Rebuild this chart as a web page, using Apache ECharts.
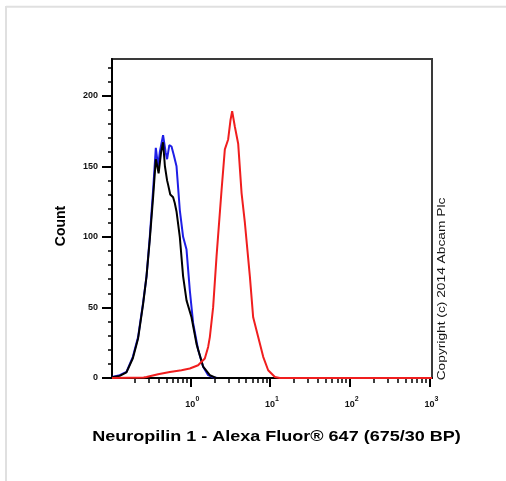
<!DOCTYPE html>
<html>
<head>
<meta charset="utf-8">
<script src="https://cdn.jsdelivr.net/npm/echarts@6/dist/echarts.min.js"></script>
<style>
html,body{margin:0;padding:0;background:#fff;}
#chart{width:506px;height:481px;}
</style>
</head>
<body>
<div id="chart"></div>
<script>
// ---- data (x = fluorescence intensity, y = count) ----
const blueData = [
  [0.104,0.7],[0.13,2],[0.158,4.3],[0.19,15],[0.221,29],[0.255,53],[0.282,72],[0.31,100],
  [0.341,133],[0.369,163],[0.394,150],[0.414,160],[0.455,172],[0.49,160],[0.511,155],
  [0.545,165],[0.581,164],[0.62,158],[0.671,150],[0.738,119],[0.812,100],[0.896,91],
  [0.986,62],[1.084,39],[1.253,20],[1.449,8],[1.674,2],[1.933,0.5],[2.2,0],[1080,0]
];
const blackData = [
  [0.104,0.5],[0.13,1.5],[0.158,4],[0.19,14],[0.221,28],[0.255,52],[0.282,72],[0.31,98],
  [0.341,128],[0.369,155],[0.385,150],[0.40,145],[0.43,160],[0.455,167],[0.48,150],
  [0.511,140],[0.526,137],[0.56,130],[0.608,128],[0.638,124],[0.671,118],[0.738,100],
  [0.812,72],[0.896,55],[1.035,43],[1.197,24],[1.449,8],[1.758,2],[2.1,0],[1080,0]
];
const redData = [
  [0.104,0],[0.26,0.3],[0.282,0.7],[0.394,2.6],[0.553,4.3],[0.775,5.5],[0.986,6.7],
  [1.253,9],[1.521,13.8],[1.674,22],[1.758,29],[1.933,50],[2.133,86],[2.466,133],
  [2.712,162],[2.985,169],[3.199,183],[3.351,189],[3.624,178],[3.988,166],[4.399,131],
  [4.839,110],[5.59,72],[6.15,43],[7.111,29],[8.221,15],[9.49,5.5],[11.53,0.7],[13.3,0],[1080,0]
];
const xMajorTicks = [1, 10, 100, 1000];
const xMinorTicks = [0.2,0.3,0.4,0.5,0.6,0.7,0.8,0.9, 2,3,4,5,6,7,8,9, 20,30,40,50,60,70,80,90, 200,300,400,500,600,700,800,900];
const yMajorTicks = [0, 50, 100, 150, 200];
const yMinorTicks = [10,20,30,40,60,70,80,90,110,120,130,140,160,170,180,190,210,220];
const xMin = 0.104, xMax = 1080, yMin = 0, yMax = 226;

const chart = echarts.init(document.getElementById('chart'), null, {renderer:'canvas'});
const FONT = 'Liberation Sans, Arial, sans-serif';

const option = {
  animation: false,
  backgroundColor: '#fff',
  grid: {
    left: 112, top: 59, right: 74, bottom: 103,
    show: true, borderColor: '#3a3a3a', borderWidth: 2, backgroundColor: 'transparent'
  },
  xAxis: [
    {
      type: 'log', logBase: 10, min: xMin, max: xMax, position: 'bottom',
      axisLine: {show: true, onZero: false, lineStyle: {color: '#000', width: 2}},
      axisTick: {show: true, length: 5, lineStyle: {color: '#000', width: 1.5}, customValues: xMinorTicks},
      axisLabel: {show: false},
      splitLine: {show: false}, minorTick: {show: false}
    },
    {
      type: 'log', logBase: 10, min: xMin, max: xMax, position: 'bottom',
      axisLine: {show: false, onZero: false},
      axisTick: {show: true, length: 9, lineStyle: {color: '#000', width: 2}, customValues: xMajorTicks},
      axisLabel: {
        show: true, customValues: xMajorTicks, margin: 16,
        formatter: function (v) {
          const e = Math.round(Math.log10(v));
          return '{b|10}{s|' + e + '}';
        },
        rich: {
          b: {fontFamily: FONT, fontWeight: 'bold', fontSize: 9, color: '#111', padding: [6, 0, 0, 4]},
          s: {fontFamily: FONT, fontWeight: 'bold', fontSize: 7, color: '#111', padding: [0, 0, 4, 0]}
        }
      },
      splitLine: {show: false}
    }
  ],
  yAxis: [
    {
      type: 'value', min: yMin, max: yMax, position: 'left',
      axisLine: {show: true, onZero: false, lineStyle: {color: '#000', width: 2}},
      axisTick: {show: true, length: 10, lineStyle: {color: '#000', width: 2}, customValues: yMajorTicks},
      axisLabel: {show: true, customValues: yMajorTicks, margin: 14, fontFamily: FONT, fontWeight: 'bold', fontSize: 9, color: '#111'},
      splitLine: {show: false}
    },
    {
      type: 'value', min: yMin, max: yMax, position: 'left',
      axisLine: {show: false, onZero: false},
      axisTick: {show: true, length: 4, lineStyle: {color: '#000', width: 1.5}, customValues: yMinorTicks},
      axisLabel: {show: false},
      splitLine: {show: false}
    }
  ],
  series: [
    {type: 'line', name: 'blue', data: blueData, xAxisIndex: 0, yAxisIndex: 0, showSymbol: false, symbol: 'none',
      lineStyle: {color: '#1e1ee6', width: 2}, z: 3},
    {type: 'line', name: 'black', data: blackData, xAxisIndex: 0, yAxisIndex: 0, showSymbol: false, symbol: 'none',
      lineStyle: {color: '#000', width: 2}, z: 4},
    {type: 'line', name: 'red', data: redData, xAxisIndex: 0, yAxisIndex: 0, showSymbol: false, symbol: 'none',
      lineStyle: {color: '#f01e1e', width: 2}, z: 5}
  ],
  graphic: [
    {type: 'line', shape: {x1: 6, y1: 6.7, x2: 506, y2: 6.7}, style: {stroke: '#e0e0e0', lineWidth: 2}, silent: true},
    {type: 'line', shape: {x1: 6, y1: 6, x2: 6, y2: 481}, style: {stroke: '#e0e0e0', lineWidth: 2}, silent: true},
    {type: 'text', x: 61, y: 226, rotation: Math.PI / 2,
      style: {text: 'Count', font: 'bold 14px ' + FONT, fill: '#000', textAlign: 'center', textVerticalAlign: 'middle'}},
    {type: 'text', x: 276.5, y: 436.5, scaleX: 1.2,
      style: {text: 'Neuropilin 1 - Alexa Fluor® 647 (675/30 BP)', font: 'bold 15px ' + FONT, fill: '#000', textAlign: 'center', textVerticalAlign: 'middle'}},
    {type: 'text', x: 441.7, y: 289, rotation: Math.PI / 2, scaleX: 1.25,
      style: {text: 'Copyright (c) 2014 Abcam Plc', font: '11px ' + FONT, fill: '#111', textAlign: 'center', textVerticalAlign: 'middle'}}
  ]
};
chart.setOption(option);
</script>
</body>
</html>
